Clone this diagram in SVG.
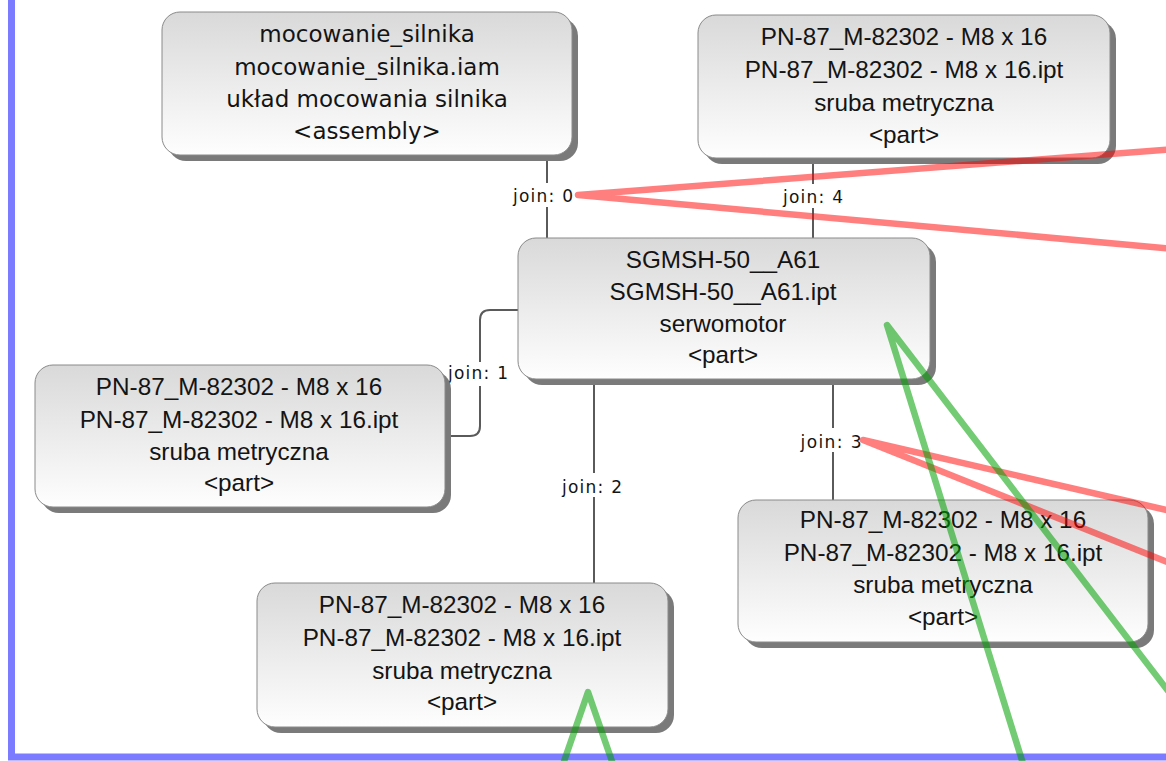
<svg xmlns="http://www.w3.org/2000/svg" width="1166" height="761" viewBox="0 0 1166 761">
<defs>
<linearGradient id="nodeFill" x1="0" y1="0" x2="0" y2="1">
<stop offset="0" stop-color="#d9d9d9"/>
<stop offset="1" stop-color="#fefefe"/>
</linearGradient>
<style>
.shadow{fill:#7a7a7a;}
.box{fill:url(#nodeFill);stroke:#8a8a8a;stroke-width:1;}
.t{font-family:"Liberation Sans",Arial,sans-serif;font-size:24.3px;fill:#141414;text-anchor:middle;}
.ta{font-family:"DejaVu Sans",Verdana,sans-serif;font-size:23px;fill:#141414;text-anchor:middle;}
.conn{fill:none;stroke:#5a5a5a;stroke-width:2;}
.lblbg{fill:#ffffff;}
.lbl{font-family:"DejaVu Sans",Verdana,sans-serif;font-size:17px;fill:#141414;text-anchor:middle;}
.red{fill:none;stroke:#ff0000;stroke-opacity:0.5;stroke-width:6.5;stroke-linecap:round;stroke-linejoin:round;}
.green{fill:none;stroke:#00a000;stroke-opacity:0.55;stroke-width:6.5;stroke-linecap:round;stroke-linejoin:round;}
</style>
</defs>
<rect x="0" y="0" width="1166" height="761" fill="#ffffff"/>
<rect x="11.5" y="-20" width="1175" height="777" fill="none" stroke="#7b7bff" stroke-width="7"/>

<g id="connectors">
<path class="conn" d="M547,155 V238"/>
<path class="conn" d="M813,158 V238"/>
<path class="conn" d="M518,310 H490 Q480,310 480,320 V426 Q480,436 470,436 H445"/>
<path class="conn" d="M594,379 V583"/>
<path class="conn" d="M833,379 V500"/>
<g id="label-join0"><rect class="lblbg" x="512" y="183" width="63" height="24"/><text class="lbl" x="543" y="202" textLength="60" lengthAdjust="spacing">join: 0</text></g>
<g id="label-join4"><rect class="lblbg" x="782" y="184" width="63" height="24"/><text class="lbl" x="813" y="203" textLength="60" lengthAdjust="spacing">join: 4</text></g>
<g id="label-join1"><rect class="lblbg" x="447" y="362" width="63" height="24"/><text class="lbl" x="478" y="379" textLength="60" lengthAdjust="spacing">join: 1</text></g>
<g id="label-join2"><rect class="lblbg" x="561" y="473" width="63" height="24"/><text class="lbl" x="592" y="493" textLength="60" lengthAdjust="spacing">join: 2</text></g>
<g id="label-join3"><rect class="lblbg" x="799" y="428" width="65" height="24"/><text class="lbl" x="831" y="448" textLength="61" lengthAdjust="spacing">join: 3</text></g>
</g>

<g id="node-mocowanie">
<rect class="shadow" x="168" y="18" width="410" height="143" rx="18"/>
<rect class="box" x="162" y="12" width="410" height="143" rx="18"/>
<text class="ta" x="367" y="42">mocowanie_silnika</text>
<text class="ta" x="367" y="75">mocowanie_silnika.iam</text>
<text class="ta" x="367" y="107">układ mocowania silnika</text>
<text class="ta" x="367" y="139">&lt;assembly&gt;</text>
</g>

<g id="node-sruba-top">
<rect class="shadow" x="704" y="21" width="412" height="143" rx="18"/>
<rect class="box" x="698" y="15" width="412" height="143" rx="18"/>
<text class="t" x="904" y="45">PN-87_M-82302 - M8 x 16</text>
<text class="t" x="904" y="78">PN-87_M-82302 - M8 x 16.ipt</text>
<text class="t" x="904" y="111">sruba metryczna</text>
<text class="t" x="904" y="143">&lt;part&gt;</text>
</g>

<g id="node-serwomotor">
<rect class="shadow" x="524" y="244" width="412" height="141" rx="18"/>
<rect class="box" x="518" y="238" width="412" height="141" rx="18"/>
<text class="t" x="723" y="268">SGMSH-50__A61</text>
<text class="t" x="723" y="300">SGMSH-50__A61.ipt</text>
<text class="t" x="723" y="332">serwomotor</text>
<text class="t" x="723" y="363">&lt;part&gt;</text>
</g>

<g id="node-sruba-left">
<rect class="shadow" x="41" y="371" width="410" height="142" rx="18"/>
<rect class="box" x="35" y="365" width="410" height="142" rx="18"/>
<text class="t" x="239" y="395">PN-87_M-82302 - M8 x 16</text>
<text class="t" x="239" y="428">PN-87_M-82302 - M8 x 16.ipt</text>
<text class="t" x="239" y="460">sruba metryczna</text>
<text class="t" x="239" y="491">&lt;part&gt;</text>
</g>

<g id="node-sruba-bottom">
<rect class="shadow" x="263" y="589" width="411" height="144" rx="18"/>
<rect class="box" x="257" y="583" width="411" height="144" rx="18"/>
<text class="t" x="462" y="613">PN-87_M-82302 - M8 x 16</text>
<text class="t" x="462" y="646">PN-87_M-82302 - M8 x 16.ipt</text>
<text class="t" x="462" y="679">sruba metryczna</text>
<text class="t" x="462" y="710">&lt;part&gt;</text>
</g>

<g id="node-sruba-right">
<rect class="shadow" x="744" y="506" width="410" height="142" rx="18"/>
<rect class="box" x="738" y="500" width="410" height="142" rx="18"/>
<text class="t" x="943" y="528">PN-87_M-82302 - M8 x 16</text>
<text class="t" x="943" y="561">PN-87_M-82302 - M8 x 16.ipt</text>
<text class="t" x="943" y="593">sruba metryczna</text>
<text class="t" x="943" y="625">&lt;part&gt;</text>
</g>

<g id="highlights">
<path class="red" d="M1175,149 L578,195 L1175,249"/>
<path class="red" d="M1175,512 L863,440 L1175,565"/>
<path class="green" d="M1025,770 L887,325 L1175,700"/>
<path class="green" d="M561,770 L588,692 L615,770"/>
</g>
</svg>
